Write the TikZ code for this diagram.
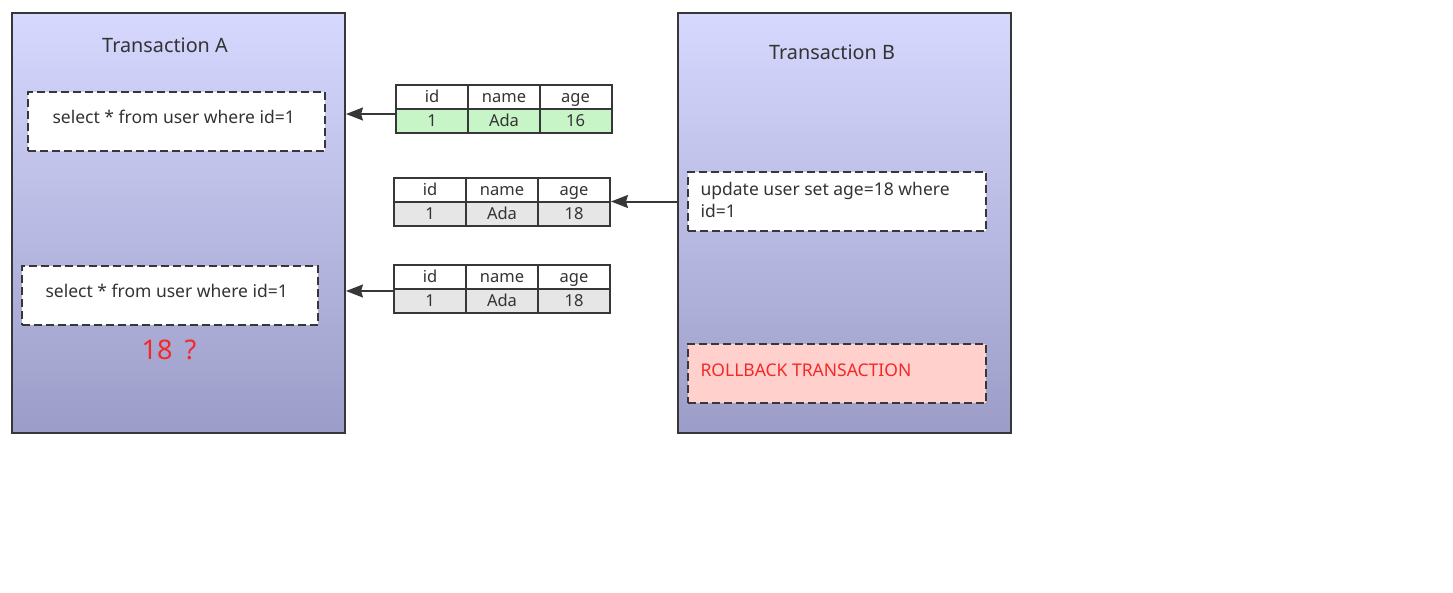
\documentclass[tikz,border=0pt]{standalone}
\usepackage{fontspec}
\setmainfont{Noto Sans}
\usetikzlibrary{arrows.meta}
\definecolor{txt}{RGB}{51,51,51}
\definecolor{edge}{RGB}{55,55,55}
\definecolor{gtop}{RGB}{214,216,254}
\definecolor{gbot}{RGB}{155,157,200}
\definecolor{green}{RGB}{200,245,200}
\definecolor{grey}{RGB}{230,230,230}
\definecolor{pink}{RGB}{255,208,204}
\definecolor{redtxt}{RGB}{245,40,40}
\tikzset{
  txbox/.style={draw=edge,line width=2pt,top color=gtop,bottom color=gbot,rectangle,inner sep=0pt},
  qbox/.style={draw=edge,line width=2pt,dash pattern=on 8pt off 4pt,fill=white,rectangle,inner sep=0pt},
  cell/.style={draw=edge,line width=2pt,rectangle,inner sep=0pt,minimum width=72pt,minimum height=24pt,text height=13pt,text depth=2pt,font=\fontsize{16.5}{17}\selectfont,text=txt},
  arr/.style={draw=edge,line width=2pt,-{Stealth[length=17pt,width=13pt,inset=2pt]}},
  lbl/.style={font=\fontsize{17.5}{22}\selectfont,text=txt}
}
\begin{document}
\begin{tikzpicture}[x=1pt,y=-1pt]
\useasboundingbox (0,0) rectangle (1453,592);
% transaction boxes
\node[txbox,minimum width=333pt,minimum height=420pt] (TA) at (178.5,223) {};
\node[txbox,minimum width=333pt,minimum height=420pt] (TB) at (844.5,223) {};
\node[font=\fontsize{19.8}{22}\selectfont,text=txt] (TAt) at (165,45) {Transaction A};
\node[font=\fontsize{19.8}{22}\selectfont,text=txt] (TBt) at (832,52) {Transaction B};
% query boxes in A
\node[qbox,minimum width=297pt,minimum height=59pt] (A1) at (176.5,121.5) {};
\node[lbl,anchor=west] (A1t) at (49,117) {select * from user where id=1};
\node[qbox,minimum width=296pt,minimum height=59pt] (A2) at (170,295.5) {};
\node[lbl,anchor=west] (A2t) at (42,291) {select * from user where id=1};
\node[font=\fontsize{27}{30}\selectfont,text=redtxt] (Q) at (169,350) {18\hspace{12pt}?};
% boxes in B
\node[qbox,minimum width=298pt,minimum height=59pt] (B1) at (837,201.5) {};
\node[lbl,anchor=north west,align=left] (B1t) at (697,179) {update user set age=18 where\\id=1};
\node[qbox,fill=pink,minimum width=298pt,minimum height=59pt] (B2) at (837,373.5) {};
\node[lbl,anchor=west,text=redtxt] (B2t) at (697,370) {ROLLBACK TRANSACTION};
% table 1
\node[cell] (t1h1) at (432,97) {id};
\node[cell] (t1h2) at (504,97) {name};
\node[cell] (t1h3) at (575.5,97) {age};
\node[cell,fill=green] (t1d1) at (432,121) {1};
\node[cell,fill=green] (t1d2) at (504,121) {Ada};
\node[cell,fill=green] (t1d3) at (575.5,121) {16};
% table 2
\node[cell] (t2h1) at (430,190) {id};
\node[cell] (t2h2) at (502,190) {name};
\node[cell] (t2h3) at (574,190) {age};
\node[cell,fill=grey] (t2d1) at (430,214) {1};
\node[cell,fill=grey] (t2d2) at (502,214) {Ada};
\node[cell,fill=grey] (t2d3) at (574,214) {18};
% table 3
\node[cell] (t3h1) at (430,277) {id};
\node[cell] (t3h2) at (502,277) {name};
\node[cell] (t3h3) at (574,277) {age};
\node[cell,fill=grey] (t3d1) at (430,301) {1};
\node[cell,fill=grey] (t3d2) at (502,301) {Ada};
\node[cell,fill=grey] (t3d3) at (574,301) {18};
% arrows
\draw[arr] ([yshift=7pt]t1d1.west) -- ([yshift=7pt]t1d1.west -| TA.east);
\draw[arr] ([yshift=10pt]t3d1.west) -- ([yshift=10pt]t3d1.west -| TA.east);
\draw[arr] (TB.west |- B1.center) -- (t2d3.north east |- B1.center);
\end{tikzpicture}
\end{document}
